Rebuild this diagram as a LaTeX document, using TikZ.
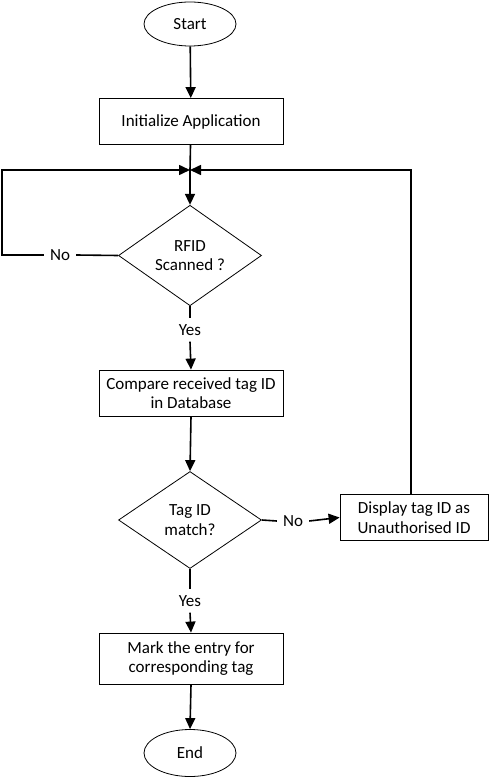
\documentclass[tikz,border=0pt]{standalone}
\usepackage{fontspec}
\setmainfont{Carlito}
\usetikzlibrary{shapes.geometric,arrows.meta}
\begin{document}
\begin{tikzpicture}[x=1pt,y=-1pt,
  font=\fontsize{17}{19.5}\selectfont,
  box/.style={draw,line width=0.8pt,rectangle,minimum width=184pt,minimum height=46pt,align=center,inner sep=2pt},
  term/.style={draw,line width=0.8pt,ellipse,minimum width=92pt,minimum height=44pt,inner sep=0pt},
  dec/.style={draw,line width=0.8pt,diamond,minimum width=143pt,minimum height=97pt,inner sep=0pt,align=center},
  lbl/.style={inner sep=6pt},
  conn/.style={line width=1.6pt},
  arr/.style={line width=1.6pt,-{Triangle[width=10pt,length=11pt]}}]
\useasboundingbox (0,0) rectangle (489,778);
\node[term] (start) at (190,24) {Start};
\node[box] (init) at (191,121.5) {Initialize Application};
\coordinate (j) at (190,170);
\node[dec] (d1) at (190,255.5) {RFID\\Scanned ?};
\node[lbl] (no1) at (60,255) {No};
\coordinate (lc) at (2,170);
\node[lbl] (yes1) at (190,330) {Yes};
\node[box] (cmp) at (191,393) {Compare received tag ID\\in Database};
\node[dec] (d2) at (190,520) {Tag ID\\match?};
\node[lbl] (no2) at (293,521) {No};
\node[draw,line width=0.8pt,rectangle,minimum width=148pt,minimum height=46pt,align=center,inner sep=2pt] (disp) at (414,517.5) {Display tag ID as\\Unauthorised ID};
\coordinate (rc) at (411,170);
\node[lbl] (yes2) at (190,601) {Yes};
\node[box,minimum height=51pt] (mark) at (191,658.5) {Mark the entry for\\corresponding tag};
\node[term,minimum height=47pt] (end) at (190,753) {End};

\draw[arr] (start) -- (init);
\draw[conn] (init) -- (j);
\draw[arr] (j) -- (d1.north);
\draw[conn] (d1.west) -- (no1.east);
\draw[arr] (no1.west) -| (lc) -- (j);
\draw[conn] (d1.south) -- (yes1.north);
\draw[arr] (yes1.south) -- (cmp.north);
\draw[arr] (cmp.south) -- (d2.north);
\draw[conn] (d2.east) -- (no2.west);
\draw[arr] (no2.east) -- (disp.west);
\draw[arr] (disp.north -| rc) -- (rc) -- (j);
\draw[conn] (d2.south) -- (yes2.north);
\draw[arr] (yes2.south) -- (mark.north);
\draw[arr] (mark.south) -- (end.north);
\end{tikzpicture}
\end{document}
